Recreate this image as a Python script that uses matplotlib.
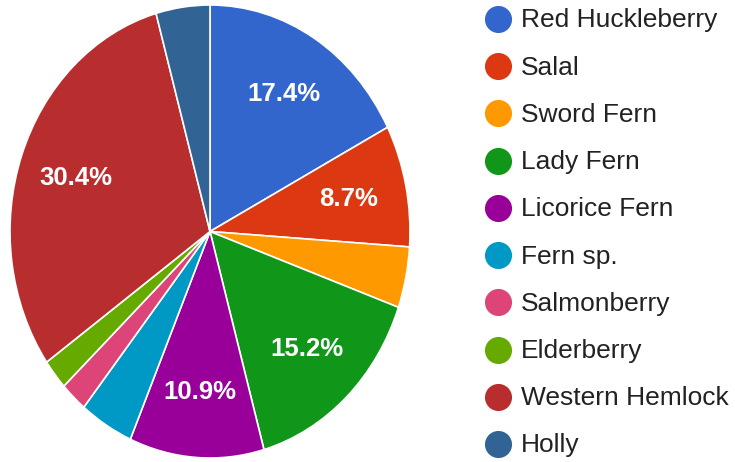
import numpy as np
import matplotlib.pyplot as plt

plt.rcParams['font.family'] = ['Liberation Sans', 'DejaVu Sans']

species = ['Red Huckleberry', 'Salal', 'Sword Fern', 'Lady Fern', 'Licorice Fern',
           'Fern sp.', 'Salmonberry', 'Elderberry', 'Western Hemlock', 'Holly']
counts = [8, 4, 2, 7, 5, 2, 1, 1, 14, 2]
colors = ['#3366cc', '#dc3912', '#ff9900', '#109618', '#990099',
          '#0099c6', '#dd4477', '#66aa00', '#b82e2e', '#316395']

W, H = 735, 462
fig = plt.figure(figsize=(W / 100, H / 100), dpi=100)


def pct_label(p):
    # small slices get no label, like the original
    return '%.1f%%' % p if p >= 5 else ''


# pie, slightly taller than wide as in the reference
ax = fig.add_axes([10 / W, 4 / H, 400 / W, 453 / H])
wedges = ax.pie(counts, colors=colors, startangle=90, counterclock=False,
                wedgeprops=dict(edgecolor='white', linewidth=1.2))[0]
total = sum(counts)
for w, c in zip(wedges, counts):
    mid = np.deg2rad((w.theta1 + w.theta2) / 2)
    lab = pct_label(100.0 * c / total)
    if lab:
        ax.text(0.71 * np.cos(mid), 0.71 * np.sin(mid), lab, ha='center', va='center',
                color='white', fontsize=18.5, fontweight='bold')
ax.set_aspect('auto')
ax.set_xlim(-1, 1)
ax.set_ylim(-1, 1)
ax.axis('off')

# legend
lax = fig.add_axes([480 / W, 18 / H, 255 / W, 425 / H])
lax.set_xlim(480, 735)
lax.set_ylim(len(species) - 1, 0)
for i, (name, col) in enumerate(zip(species, colors)):
    lax.plot([498], [i], 'o', ms=19.5, color=col, mec='none', clip_on=False)
    lax.text(521, i + 0.03, name, va='center', ha='left', fontsize=19, color='#222222')
lax.axis('off')

fig.savefig('out.png', dpi=100)
